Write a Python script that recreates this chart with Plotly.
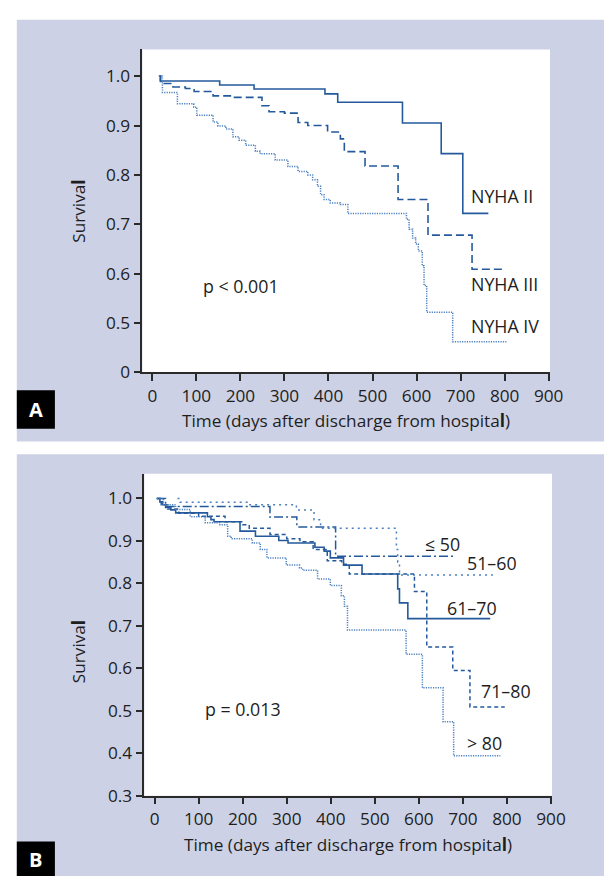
import plotly.graph_objects as go

# ---------------- Panel A data (NYHA class) ----------------
nyha2_days = [15, 18, 153, 231, 392, 421, 568, 656, 705, 763]
nyha2_surv = [1.0, 0.99, 0.982, 0.974, 0.964, 0.947, 0.905, 0.843, 0.722, 0.722]

nyha3_days = [15, 19, 47, 75, 95, 138, 183, 249, 265, 300, 331, 353, 398, 427,
              436, 483, 558, 626, 726, 798]
nyha3_surv = [1.0, 0.985, 0.978, 0.975, 0.969, 0.960, 0.957, 0.940, 0.928, 0.925,
              0.906, 0.900, 0.887, 0.873, 0.847, 0.818, 0.750, 0.678, 0.609, 0.609]

nyha4_days = [15, 23, 57, 94, 101, 138, 149, 167, 183, 197, 212, 234, 245, 279,
              308, 331, 353, 364, 375, 382, 390, 404, 427, 444, 577, 583, 591,
              598, 604, 613, 617, 623, 682, 804]
nyha4_surv = [1.0, 0.967, 0.944, 0.937, 0.921, 0.907, 0.899, 0.893, 0.877, 0.870,
              0.860, 0.848, 0.843, 0.830, 0.817, 0.807, 0.800, 0.790, 0.777, 0.760,
              0.750, 0.743, 0.740, 0.722, 0.710, 0.690, 0.672, 0.660, 0.646, 0.616,
              0.576, 0.522, 0.462, 0.462]

# ---------------- Panel B data (age groups) ----------------
le50_days = [5, 25, 262, 323, 411, 680]
le50_surv = [1.0, 0.981, 0.956, 0.933, 0.864, 0.864]

a5160_days = [52, 58, 214, 322, 362, 377, 549, 552, 556, 768]
a5160_surv = [1.0, 0.991, 0.985, 0.973, 0.950, 0.930, 0.880, 0.850, 0.820, 0.820]

a6170_days = [5, 12, 18, 25, 37, 48, 120, 128, 135, 194, 229, 282, 303, 364, 385,
              399, 429, 471, 552, 556, 575, 762]
a6170_surv = [1.0, 0.992, 0.985, 0.979, 0.973, 0.966, 0.957, 0.950, 0.945, 0.923,
              0.911, 0.901, 0.895, 0.885, 0.876, 0.860, 0.843, 0.822, 0.787, 0.754,
              0.717, 0.717]

a7180_days = [5, 15, 30, 55, 100, 160, 200, 215, 262, 300, 330, 360, 392, 425, 442,
              590, 618, 677, 716, 795]
a7180_surv = [1.0, 0.985, 0.975, 0.965, 0.958, 0.945, 0.938, 0.930, 0.915, 0.905,
              0.898, 0.880, 0.853, 0.845, 0.822, 0.781, 0.650, 0.595, 0.509, 0.509]

gt80_days = [5, 20, 48, 81, 115, 148, 166, 174, 222, 240, 255, 299, 329, 336, 370,
             399, 424, 431, 438, 571, 608, 655, 679, 785]
gt80_surv = [1.0, 0.985, 0.974, 0.957, 0.943, 0.938, 0.911, 0.905, 0.895, 0.880,
             0.860, 0.843, 0.836, 0.831, 0.810, 0.795, 0.771, 0.746, 0.690, 0.633,
             0.554, 0.474, 0.394, 0.394]

x_ticks = [0, 100, 200, 300, 400, 500, 600, 700, 800, 900]
ya_tickvals = [0.4, 0.5, 0.6, 0.7, 0.8, 0.9, 1.0]
ya_ticktext = ["0", "0.5", "0.6", "0.7", "0.8", "0.9", "1.0"]
yb_tickvals = [0.3, 0.4, 0.5, 0.6, 0.7, 0.8, 0.9, 1.0]
yb_ticktext = ["0.3", "0.4", "0.5", "0.6", "0.7", "0.8", "0.9", "1.0"]

W, H = 612, 879
FONT = "Open Sans"
TXT = "#1e1e1e"
AXC = "#2a2a2a"
DARK = "#245a9c"
LIGHT = "#4a7fc0"
FS = 17.2


def px(x):
    return x / W


def py(y):
    return 1 - y / H


fig = go.Figure()


def add(days, surv, xa, ya, color, dash, width=1.6):
    fig.add_trace(go.Scatter(x=days, y=surv, mode="lines", xaxis=xa, yaxis=ya,
                             line=dict(color=color, dash=dash, width=width, shape="hv"),
                             showlegend=False, hoverinfo="skip"))


add(nyha2_days, nyha2_surv, "x", "y", DARK, "solid", 1.6)
add(nyha3_days, nyha3_surv, "x", "y", DARK, "8px,4px", 1.6)
add(nyha4_days, nyha4_surv, "x", "y", LIGHT, "1.2px,1.2px", 1.5)

add(le50_days, le50_surv, "x2", "y2", DARK, "9px,3px,2px,3px", 1.5)
add(a5160_days, a5160_surv, "x2", "y2", LIGHT, "2px,4px", 1.5)
add(a6170_days, a6170_surv, "x2", "y2", DARK, "solid", 1.6)
add(a7180_days, a7180_surv, "x2", "y2", DARK, "4px,3px", 1.5)
add(gt80_days, gt80_surv, "x2", "y2", LIGHT, "1.2px,1.2px", 1.5)

# plot-area pixel boxes
A = dict(x0=137.5, x1=554.7, y0=42, y1=369)
B = dict(x0=139.5, x1=556.7, y0=471.7, y1=797.7)

axis_common = dict(showline=True, linecolor=AXC, linewidth=1.5, ticks="outside",
                   ticklen=7, tickwidth=1.5, tickcolor=AXC, showgrid=False,
                   zeroline=False, tickfont=dict(family=FONT, size=FS, color=TXT),
                   fixedrange=True)

fig.update_layout(
    width=W, height=H, margin=dict(l=0, r=0, t=0, b=0),
    paper_bgcolor="white", plot_bgcolor="rgba(0,0,0,0)",
    xaxis=dict(domain=[px(A["x0"]), px(A["x1"])], range=[-22.6, 903],
               tickvals=x_ticks, anchor="y", **axis_common),
    yaxis=dict(domain=[py(A["y1"]), py(A["y0"])], range=[0.4, 1.054],
               tickvals=ya_tickvals, ticktext=ya_ticktext, anchor="x", **axis_common),
    xaxis2=dict(domain=[px(B["x0"]), px(B["x1"])], range=[-23.3, 902.2],
                tickvals=x_ticks, anchor="y2", **axis_common),
    yaxis2=dict(domain=[py(B["y1"]), py(B["y0"])], range=[0.3, 1.058],
                tickvals=yb_tickvals, ticktext=yb_ticktext, anchor="x2", **axis_common),
)

LAV = "#cdd1e5"
shapes = [
    dict(type="rect", xref="paper", yref="paper", x0=px(9), x1=1, y0=py(439), y1=py(12),
         fillcolor=LAV, line=dict(width=0), layer="below"),
    dict(type="rect", xref="paper", yref="paper", x0=px(9), x1=1, y0=py(879), y1=py(452),
         fillcolor=LAV, line=dict(width=0), layer="below"),
    dict(type="rect", xref="paper", yref="paper", x0=px(A["x0"]), x1=px(A["x1"]),
         y0=py(A["y1"]), y1=py(A["y0"]), fillcolor="white", line=dict(width=0), layer="below"),
    dict(type="rect", xref="paper", yref="paper", x0=px(B["x0"]), x1=px(B["x1"]),
         y0=py(B["y1"]), y1=py(B["y0"]), fillcolor="white", line=dict(width=0), layer="below"),
    dict(type="rect", xref="paper", yref="paper", x0=px(9), x1=px(48), y0=py(426), y1=py(387),
         fillcolor="black", line=dict(width=0)),
    dict(type="rect", xref="paper", yref="paper", x0=px(9), x1=px(48), y0=py(879), y1=py(844),
         fillcolor="black", line=dict(width=0)),
]
fig.update_layout(shapes=shapes)


def ann(text, x, y, size=FS, color=TXT, angle=0, xanchor="center"):
    fig.add_annotation(text=text, x=px(x), y=py(y), xref="paper", yref="paper",
                       showarrow=False, xanchor=xanchor, yanchor="middle", textangle=angle,
                       font=dict(family=FONT, size=size, color=color))


ann("<b>A</b>", 28.5, 406.5, size=20, color="white")
ann("<b>B</b>", 28.5, 862, size=20, color="white")

ann("Surviva<b>l</b>", 72, 206, angle=-90)
ann("Surviva<b>l</b>", 72, 652, angle=-90)
ann("Time (days after discharge from hospita<b>l</b>)", 346, 418)
ann("Time (days after discharge from hospita<b>l</b>)", 348, 847)

ann("NYHA II", 472, 190, size=17.8, xanchor="left")
ann("NYHA III", 472, 279, size=17.8, xanchor="left")
ann("NYHA IV", 472, 322, size=17.8, xanchor="left")
ann("p &lt; 0.001", 198, 282, size=17.8, xanchor="left")

ann("≤ 50", 425, 543, size=17.8, xanchor="left")
ann("51–60", 468, 562, size=17.8, xanchor="left")
ann("61–70", 447, 608, size=17.8, xanchor="left")
ann("71–80", 482, 692, size=17.8, xanchor="left")
ann("&gt; 80", 468, 744, size=17.8, xanchor="left")
ann("p = 0.013", 200, 710, size=17.8, xanchor="left")

fig.write_html("out.html")
